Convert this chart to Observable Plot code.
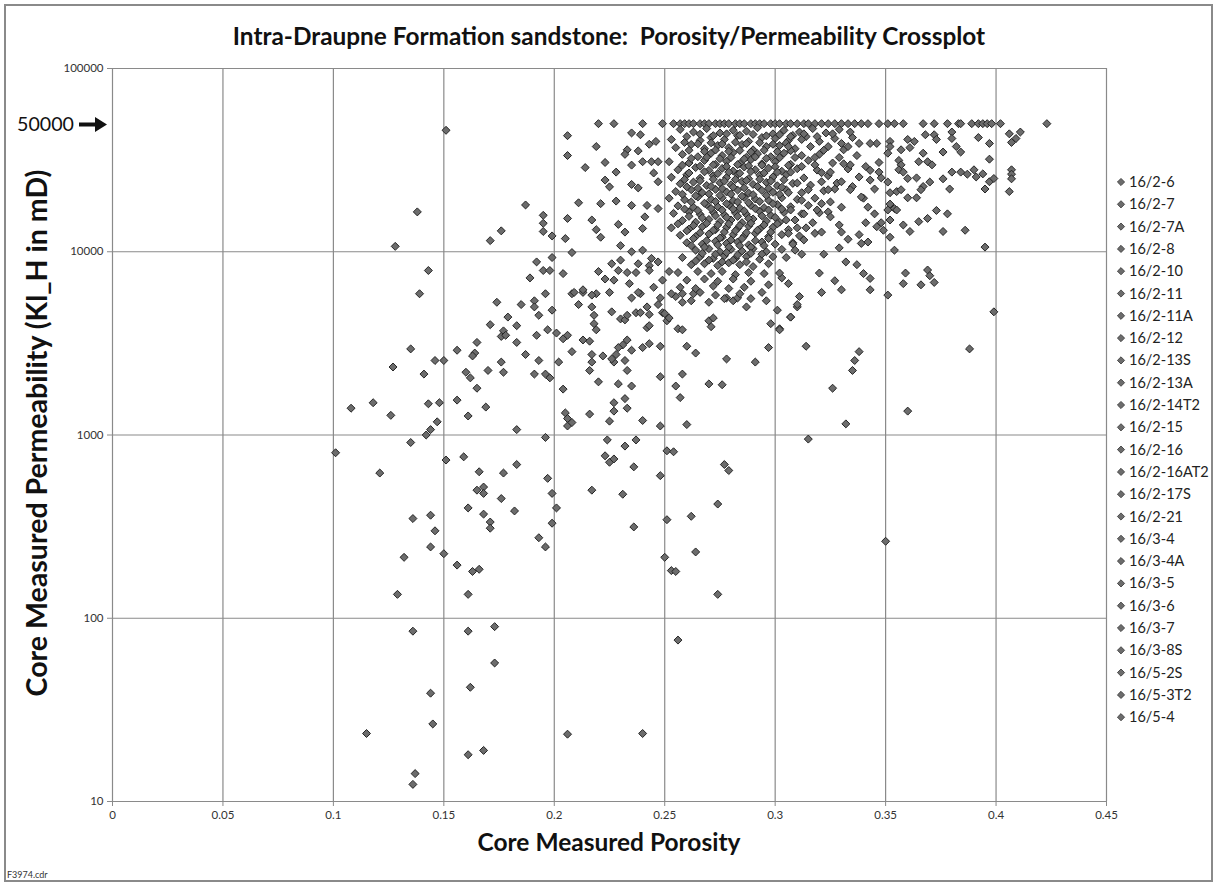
<!DOCTYPE html>
<html><head><meta charset="utf-8">
<script src="https://cdn.jsdelivr.net/npm/d3@7"></script>
<script src="https://cdn.jsdelivr.net/npm/@observablehq/plot@0.6"></script>
<style>body{margin:0;background:#fff} svg{display:block}</style>
</head><body><div id="chart"></div>
<script>
const wells = ["16/2-6","16/2-7","16/2-7A","16/2-8","16/2-10","16/2-11","16/2-11A","16/2-12","16/2-13S","16/2-13A","16/2-14T2","16/2-15","16/2-16","16/2-16AT2","16/2-17S","16/2-21","16/3-4","16/3-4A","16/3-5","16/3-6","16/3-7","16/3-8S","16/5-2S","16/5-3T2","16/5-4"];
const xTicks = [0,0.05,0.1,0.15,0.2,0.25,0.3,0.35,0.4,0.45];
const yTicks = [10,100,1000,10000,100000];
const capValue = 50000;
// porosity of samples at the 50000 mD measurement cap
const cappedPorosity = [0.220,0.227,0.240,0.249,0.254,0.257,0.259,0.261,0.263,0.266,0.268,0.270,0.273,0.275,0.277,0.279,0.282,0.284,0.286,0.289,0.291,0.293,0.295,0.298,0.300,0.302,0.305,0.307,0.310,0.313,0.315,0.318,0.321,0.324,0.327,0.330,0.333,0.336,0.339,0.342,0.347,0.351,0.354,0.358,0.367,0.372,0.378,0.383,0.384,0.389,0.392,0.394,0.396,0.398,0.402,0.423];
// [porosity, permeability mD]
const lowSamples = [[0.151,46000],[0.138,16500],[0.128,10700],[0.187,18000],[0.195,15800],[0.195,14300],[0.195,12900],[0.199,12200],[0.176,13000],[0.171,11500],[0.199,9300],[0.192,8800],[0.195,7900],[0.198,7900],[0.189,7200],[0.143,7900],[0.139,5900],[0.196,5900],[0.174,5300],[0.185,5150],[0.191,5400],[0.191,5000],[0.199,4800],[0.179,4400],[0.193,4500],[0.171,4000],[0.183,3950],[0.177,3700],[0.176,3450],[0.178,3500],[0.192,3500],[0.197,3750],[0.201,3600],[0.183,3200],[0.165,3200],[0.156,2900],[0.164,2800],[0.163,2700],[0.187,2750],[0.193,2550],[0.176,2500],[0.202,2500],[0.135,2950],[0.146,2550],[0.150,2550],[0.127,2350],[0.141,2150],[0.160,2200],[0.162,2050],[0.170,2250],[0.177,2200],[0.191,2150],[0.196,2150],[0.198,2050],[0.165,1800],[0.108,1400],[0.118,1500],[0.126,1280],[0.143,1480],[0.148,1500],[0.156,1550],[0.169,1420],[0.161,1270],[0.147,1180],[0.144,1070],[0.183,1070],[0.142,1000],[0.196,970],[0.135,910],[0.101,800],[0.159,760],[0.151,730],[0.183,690],[0.121,620],[0.166,630],[0.177,620],[0.197,580],[0.168,520],[0.165,500],[0.168,480],[0.199,480],[0.176,450],[0.161,400],[0.168,370],[0.182,385],[0.201,400],[0.136,350],[0.144,365],[0.171,335],[0.171,310],[0.146,300],[0.199,330],[0.193,275],[0.196,245],[0.144,245],[0.132,215],[0.150,225],[0.156,195],[0.163,180],[0.166,185],[0.129,135],[0.161,135],[0.136,85],[0.161,85],[0.173,90],[0.173,57],[0.162,42],[0.144,39],[0.145,26.5],[0.115,23.5],[0.206,23.3],[0.240,23.5],[0.161,18],[0.168,19],[0.137,14.2],[0.136,12.4]];
const midSamples = [[0.224,940],[0.232,870],[0.237,940],[0.223,770],[0.225,710],[0.227,740],[0.236,670],[0.251,820],[0.254,810],[0.248,600],[0.277,690],[0.279,640],[0.217,500],[0.231,475],[0.274,420],[0.262,360],[0.251,345],[0.236,315],[0.264,230],[0.250,215],[0.253,182],[0.255,180],[0.274,135],[0.256,76],[0.208,2850],[0.204,1780],[0.205,1320],[0.206,1230],[0.206,1120],[0.208,1170],[0.216,1300],[0.225,1190],[0.227,1500],[0.227,1350],[0.232,1580],[0.233,1400],[0.240,1200],[0.248,1120],[0.260,1140],[0.220,1950],[0.229,1900],[0.235,1850],[0.248,2080],[0.255,1850],[0.258,2150],[0.257,1600],[0.270,1900],[0.276,1880],[0.278,2600],[0.291,2500],[0.297,3000],[0.216,2250],[0.217,2500],[0.217,2750],[0.222,2700],[0.227,2500],[0.226,2600],[0.228,2750],[0.232,2550],[0.233,2250],[0.235,2900],[0.231,3100],[0.233,3300],[0.240,3000],[0.243,3150],[0.248,3050],[0.260,3050],[0.264,2800],[0.213,3300],[0.216,3250],[0.204,3350],[0.206,3500],[0.218,4050],[0.218,4500],[0.219,3750],[0.217,5000],[0.211,5150],[0.226,4700],[0.230,4300],[0.232,4250],[0.233,4500],[0.237,4650],[0.239,4650],[0.243,4550],[0.242,5000],[0.242,3850],[0.243,3950],[0.247,5150],[0.249,4650],[0.251,4200],[0.252,4350],[0.256,3800],[0.258,3750],[0.258,5300],[0.270,4200],[0.272,4350],[0.271,3900],[0.278,5600],[0.281,5400],[0.283,5600],[0.287,5000],[0.289,5550],[0.294,6000],[0.298,4050],[0.302,3800],[0.301,4800],[0.307,4400],[0.310,5000],[0.208,5900],[0.213,6000],[0.219,5900],[0.225,6000],[0.235,5600],[0.239,5900],[0.248,5600],[0.250,4600],[0.255,5700],[0.263,5900],[0.273,5800],[0.277,5550],[0.229,3000],[0.258,5900],[0.266,6000],[0.262,5400],[0.270,5300],[0.284,5900],[0.297,6600],[0.303,7200],[0.296,5400]];
const upperLeftSamples = [[0.206,43000],[0.235,44500],[0.239,43500],[0.243,38600],[0.246,40000],[0.238,35500],[0.233,36000],[0.232,34000],[0.219,37500],[0.206,33500],[0.223,30700],[0.235,29700],[0.240,31000],[0.244,31000],[0.247,31000],[0.214,28800],[0.228,27200],[0.245,26900],[0.223,24600],[0.225,22600],[0.235,23300],[0.238,22300],[0.247,24100],[0.211,18500],[0.221,18300],[0.228,18900],[0.235,17900],[0.242,17900],[0.247,17200],[0.206,15200],[0.217,14900],[0.229,14100],[0.241,15500],[0.240,13400],[0.219,13200],[0.221,12000],[0.232,12800],[0.205,11800],[0.230,10800],[0.235,10000],[0.240,10200],[0.244,9200],[0.208,9900],[0.226,8600],[0.230,9000],[0.238,8600],[0.243,8400],[0.247,8800],[0.204,7600],[0.220,7800],[0.229,7900],[0.233,7700],[0.237,7700],[0.243,7900],[0.223,7100],[0.227,7000],[0.234,6700],[0.238,6000],[0.245,6400],[0.209,6000],[0.213,6200],[0.217,5800],[0.249,7000],[0.252,7800],[0.253,5900]];
const coreSamples = [
[0.257,46500],[0.263,45000],[0.269,47000],[0.275,44500],[0.281,46000],[0.287,45500],[0.292,47500],[0.299,44000],[0.304,46000],[0.311,45000],[0.317,47000],[0.323,44500],[0.329,46500],
[0.253,41000],[0.260,42500],[0.266,40500],[0.271,42000],[0.277,41000],[0.283,43000],[0.288,40000],[0.294,42000],[0.300,41500],[0.306,40500],[0.314,42500],[0.320,40000],[0.327,41500],[0.335,42000],
[0.255,37000],[0.262,38500],[0.268,36500],[0.274,38000],[0.279,37000],[0.285,38500],[0.290,36000],[0.296,37500],[0.302,38000],[0.309,36500],[0.324,37500],[0.331,36000],
[0.258,34000],[0.265,33000],[0.271,34500],[0.276,33500],[0.281,34800],[0.287,32800],[0.292,34200],[0.298,33000],[0.304,34500],[0.312,33500],[0.320,34000],[0.337,33500],
[0.252,31000],[0.261,30500],[0.268,31500],[0.273,30000],[0.278,31200],[0.284,30300],[0.289,31800],[0.294,30200],[0.300,31000],[0.307,30000],[0.315,31500],[0.326,30500],
[0.256,28000],[0.264,28800],[0.270,27800],[0.276,28500],[0.281,27600],[0.286,29000],[0.291,28000],[0.297,28600],[0.303,27500],[0.310,28400],[0.319,27900],[0.333,28300],
[0.253,25500],[0.260,26300],[0.266,25200],[0.272,26000],[0.278,25400],[0.283,26500],[0.288,25000],[0.293,26200],[0.299,25600],[0.305,26400],[0.313,25300],[0.324,26000],
[0.257,23500],[0.263,24000],[0.269,23000],[0.275,23800],[0.280,23200],[0.285,24200],[0.290,23300],[0.296,23900],[0.301,22900],[0.308,23600],[0.316,23100],[0.328,23700],
[0.255,21300],[0.262,21800],[0.267,21000],[0.273,21900],[0.278,21200],[0.283,21700],[0.288,20900],[0.294,21600],[0.299,21100],[0.305,21800],[0.312,21000],[0.322,21500],
[0.252,19600],[0.259,19200],[0.265,19900],[0.271,19300],[0.276,19700],[0.281,19000],[0.286,19800],[0.291,19400],[0.297,19100],[0.303,19700],[0.310,19300],[0.318,19600],
[0.256,17800],[0.263,17500],[0.269,18100],[0.274,17600],[0.279,18000],[0.284,17300],[0.289,17900],[0.295,17400],[0.301,18100],[0.307,17600],[0.315,17900],
[0.254,16200],[0.261,16500],[0.266,16000],[0.272,16400],[0.277,15900],[0.282,16300],[0.287,16000],[0.293,16600],[0.298,15800],[0.304,16400],[0.312,16100],[0.320,16300],
[0.258,14800],[0.264,14500],[0.270,15000],[0.275,14600],[0.280,14900],[0.285,14400],[0.290,15100],[0.296,14700],[0.302,14500],[0.309,14900],
[0.253,13500],[0.261,13300],[0.267,13700],[0.273,13200],[0.278,13600],[0.283,13400],[0.288,13800],[0.293,13300],[0.299,13600],[0.306,13200],[0.314,13500],
[0.257,12300],[0.264,12100],[0.270,12500],[0.276,12000],[0.281,12400],[0.286,12200],[0.291,12600],[0.297,12100],[0.303,12400],[0.311,12200],
[0.260,11200],[0.267,11000],[0.273,11400],[0.278,11100],[0.283,11300],[0.288,10900],[0.294,11300],[0.300,11000],[0.308,11200],
[0.264,10200],[0.270,10400],[0.275,10000],[0.280,10300],[0.285,10100],[0.290,10400],[0.296,10000],[0.303,10300],
[0.258,9300],[0.266,9400],[0.272,9200],[0.277,9500],[0.282,9200],[0.287,9400],[0.293,9100],[0.299,9400],
[0.262,8500],[0.268,8600],[0.274,8400],[0.279,8700],[0.284,8500],[0.290,8300],[0.297,8600],
[0.256,7700],[0.265,7800],[0.271,7600],[0.276,7800],[0.282,7500],[0.288,7700],[0.295,7600],
[0.260,7000],[0.268,7100],[0.274,6900],[0.281,7100],[0.289,6900],
[0.257,6400],[0.264,6300],[0.272,6500],[0.279,6300],[0.286,6400]];
const coreInnerSamples = [
[0.266,43800],[0.272,43000],[0.278,44000],[0.284,43200],[0.290,43700],[0.296,42900],[0.302,43500],[0.308,43100],
[0.259,39500],[0.265,38800],[0.271,39300],[0.276,38700],[0.282,39600],[0.287,38900],[0.293,39400],[0.299,38600],[0.305,39200],
[0.261,35800],[0.268,35200],[0.273,35900],[0.279,35300],[0.284,35700],[0.289,35000],[0.295,35800],[0.301,35200],[0.307,35600],
[0.262,32300],[0.269,32800],[0.275,32200],[0.280,32700],[0.286,32100],[0.291,32900],[0.296,32300],[0.302,32600],
[0.258,29700],[0.266,29300],[0.272,29800],[0.278,29200],[0.283,29900],[0.288,29400],[0.294,29700],[0.300,29100],[0.306,29600],
[0.261,26900],[0.268,27300],[0.274,26700],[0.279,27200],[0.284,26800],[0.289,27400],[0.295,26900],[0.301,27200],
[0.259,24800],[0.266,24400],[0.272,24900],[0.277,24300],[0.282,24800],[0.287,24500],[0.293,24900],[0.298,24300],[0.304,24700],
[0.260,22600],[0.265,22200],[0.271,22700],[0.276,22100],[0.281,22500],[0.286,22300],[0.292,22700],[0.297,22200],[0.303,22500],
[0.258,20600],[0.264,20200],[0.270,20700],[0.275,20300],[0.280,20600],[0.285,20100],[0.290,20500],[0.296,20300],[0.302,20600],
[0.262,18700],[0.268,18400],[0.273,18800],[0.278,18300],[0.283,18700],[0.288,18500],[0.293,18800],[0.299,18300],
[0.259,17100],[0.265,16800],[0.271,17200],[0.276,16900],[0.281,17100],[0.286,16700],[0.291,17200],[0.297,16900],[0.303,17100],
[0.261,15600],[0.267,15300],[0.273,15700],[0.278,15400],[0.283,15600],[0.288,15200],[0.294,15700],[0.300,15400],
[0.256,14200],[0.263,13900],[0.269,14300],[0.274,14000],[0.279,14200],[0.284,13900],[0.289,14300],[0.295,14000],[0.301,14200],
[0.260,13000],[0.266,12700],[0.272,13100],[0.277,12800],[0.282,13000],[0.287,12700],[0.292,13100],[0.298,12800],
[0.263,11800],[0.269,11500],[0.275,11900],[0.280,11600],[0.285,11800],[0.291,11500],[0.297,11800],
[0.262,10800],[0.268,10600],[0.274,10900],[0.279,10600],[0.284,10800],[0.289,10600],[0.295,10800],
[0.267,9800],[0.273,9700],[0.278,9900],[0.283,9600],[0.289,9800],[0.294,9700],
[0.264,8900],[0.270,9000],[0.276,8800],[0.281,9000],[0.287,8800]];
const rightSamples = [[0.368,43500],[0.372,43500],[0.373,41000],[0.380,45000],[0.380,41500],[0.392,42000],[0.397,39000],[0.397,32000],[0.406,44000],[0.411,45000],[0.409,41500],[0.407,39500],[0.407,28000],[0.407,26500],[0.407,25000],[0.406,21300],[0.376,35000],[0.382,37500],[0.384,35000],[0.360,41000],[0.363,40000],[0.361,37000],[0.352,40000],[0.352,37500],[0.351,34500],[0.346,39000],[0.343,39000],[0.357,36000],[0.356,31500],[0.357,29800],[0.356,28000],[0.358,27200],[0.360,25100],[0.367,34500],[0.369,31000],[0.371,29800],[0.365,31000],[0.364,25300],[0.367,22700],[0.366,21800],[0.370,24000],[0.376,25000],[0.379,22000],[0.380,27200],[0.384,27200],[0.387,26500],[0.390,28000],[0.391,25600],[0.394,26600],[0.395,22000],[0.397,24100],[0.399,25100],[0.347,30700],[0.347,27200],[0.348,25300],[0.351,24000],[0.352,21000],[0.352,18200],[0.355,21300],[0.357,21800],[0.360,19700],[0.364,19700],[0.354,17200],[0.355,16900],[0.365,14600],[0.369,15200],[0.373,16800],[0.378,16100],[0.376,12900],[0.386,13100],[0.395,10600],[0.358,14000],[0.361,12900],[0.352,14900],[0.352,12000],[0.354,10200],[0.348,14400],[0.349,13100],[0.346,13700],[0.342,11300],[0.339,11100],[0.341,14400],[0.338,12400],[0.333,11700],[0.329,10500],[0.329,14000],[0.330,12800],[0.322,9700],[0.332,8800],[0.337,8500],[0.340,7600],[0.343,7150],[0.343,6200],[0.351,5800],[0.359,7650],[0.358,6700],[0.366,6600],[0.369,7950],[0.370,7400],[0.372,6800],[0.320,7650],[0.327,6950],[0.330,6200],[0.321,6000],[0.306,6700],[0.311,5700],[0.310,5150],[0.307,4400],[0.302,3750],[0.399,4700],[0.314,3050],[0.388,2950],[0.338,2850],[0.336,2550],[0.335,2250],[0.326,1800],[0.360,1350],[0.332,1150],[0.315,950],[0.350,263],[0.342,17500],[0.345,16100],[0.351,16900],[0.340,19600],[0.343,27800],[0.341,29200],[0.343,24600],[0.345,22000],[0.338,25600],[0.335,22700],[0.339,19900],[0.334,29800],[0.329,32700],[0.331,30200],[0.333,37500],[0.330,39000],[0.326,44000],[0.334,45000],[0.338,39000],[0.312,9700],[0.309,10200],[0.305,9300],[0.302,7650],[0.318,12600],[0.321,12800],[0.324,16500],[0.325,15500],[0.319,16900],[0.317,14400],[0.321,18300],[0.325,18700],[0.330,17500],[0.327,22000],[0.330,24100],[0.334,21800],[0.324,21800],[0.321,24100],[0.321,27000],[0.325,27200],[0.318,29800],[0.318,32700],[0.322,35800],[0.316,37500],[0.312,41000],[0.313,44000],[0.319,42500],[0.307,42500],[0.306,37500],[0.309,32700],[0.312,29200],[0.307,27200],[0.310,23700],[0.315,21800],[0.306,21000],[0.312,19100],[0.307,16900],[0.313,16100],[0.305,14900],[0.310,13500],[0.306,12600],[0.313,11600],[0.308,11000]];

const data = [
  ...cappedPorosity.map(p => ({por: p, perm: capValue})),
  ...[lowSamples, midSamples, upperLeftSamples, coreSamples, coreInnerSamples, rightSamples].flat().map(([por, perm]) => ({por, perm}))
];

const W = 1221, H = 886;
const gridColor = "#8a8a8a";
const chart = Plot.plot({
  width: W, height: H,
  marginLeft: 112, marginRight: 115, marginTop: 68, marginBottom: 85,
  style: {fontFamily: "Lato, 'Open Sans', sans-serif", fontSize: "11.5px", color: "#333", background: "#fff"},
  x: {domain: [0, 0.45]},
  y: {type: "log", domain: [10, 100000]},
  marks: [
    Plot.gridX(xTicks, {stroke: gridColor, strokeOpacity: 1, strokeWidth: 1.2}),
    Plot.gridY(yTicks, {stroke: gridColor, strokeOpacity: 1, strokeWidth: 1.2}),
    Plot.axisX(xTicks, {tickSize: 5, tickPadding: 4, stroke: gridColor, tickFormat: d => String(+d.toFixed(2)), label: null}),
    Plot.axisY(yTicks, {tickSize: 5, tickPadding: 4, stroke: gridColor, tickFormat: d => String(d), label: null}),
    Plot.dot(data, {x: "por", y: "perm", symbol: "diamond2", r: 3.6, fill: "#6c6c6c", stroke: "#252525", strokeWidth: 1})
  ]
});
document.getElementById("chart").appendChild(chart);

const svg = d3.select(chart);
const font = "Lato, 'Open Sans', sans-serif";
function fit(sel, w) {
  const L = sel.node().getComputedTextLength();
  if (L > 0) sel.attr("font-size", parseFloat(sel.attr("font-size")) * w / L);
}
svg.append("rect").attr("x", 5).attr("y", 5).attr("width", 1207).attr("height", 876)
  .attr("fill", "none").attr("stroke", "#8a8a8a").attr("stroke-width", 2);

const title = svg.append("text").attr("x", 609).attr("y", 45).attr("text-anchor", "middle")
  .attr("font-family", font).attr("font-weight", "bold").attr("font-size", 21).attr("fill", "#111")
  .text("Intra-Draupne Formation sandstone:  Porosity/Permeability Crossplot").style("white-space", "pre");
fit(title, 753);
const xl = svg.append("text").attr("x", 609).attr("y", 851).attr("text-anchor", "middle")
  .attr("font-family", font).attr("font-weight", "bold").attr("font-size", 22).attr("fill", "#111")
  .text("Core Measured Porosity");
fit(xl, 263);
const yl = svg.append("text").attr("transform", "translate(47,433) rotate(-90)").attr("text-anchor", "middle")
  .attr("font-family", font).attr("font-weight", "bold").attr("font-size", 22).attr("fill", "#111")
  .text("Core Measured Permeability (Kl_H in mD)");
fit(yl, 527);
const cap = svg.append("text").attr("x", 17).attr("y", 131).attr("text-anchor", "start").attr("font-family", font)
  .attr("font-size", 20).attr("fill", "#111").text("50000");
fit(cap, 57);
svg.append("path").attr("d", "M79,122.5 H95 V117 L107,124.5 L95,132 V126.5 H79 Z").attr("fill", "#111");

svg.append("text").attr("x", 7).attr("y", 878).attr("text-anchor", "start").attr("font-family", font)
  .attr("font-size", 9).attr("fill", "#333").text("F3974.cdr");

const lg = svg.append("g").attr("text-anchor", "start");
wells.forEach((w, i) => {
  const y = 182 + i * 22.3;
  lg.append("path").attr("d", `M1121,${y-3.6} L1124.6,${y} L1121,${y+3.6} L1117.4,${y} Z`)
    .attr("fill", "#6c6c6c").attr("stroke", "#333").attr("stroke-width", 0.8);
  lg.append("text").attr("x", 1129).attr("y", y).attr("dy", "0.35em").attr("text-anchor", "start").attr("font-family", font)
    .attr("font-size", 14.5).attr("fill", "#222").text(w);
});
</script>
</body></html>
